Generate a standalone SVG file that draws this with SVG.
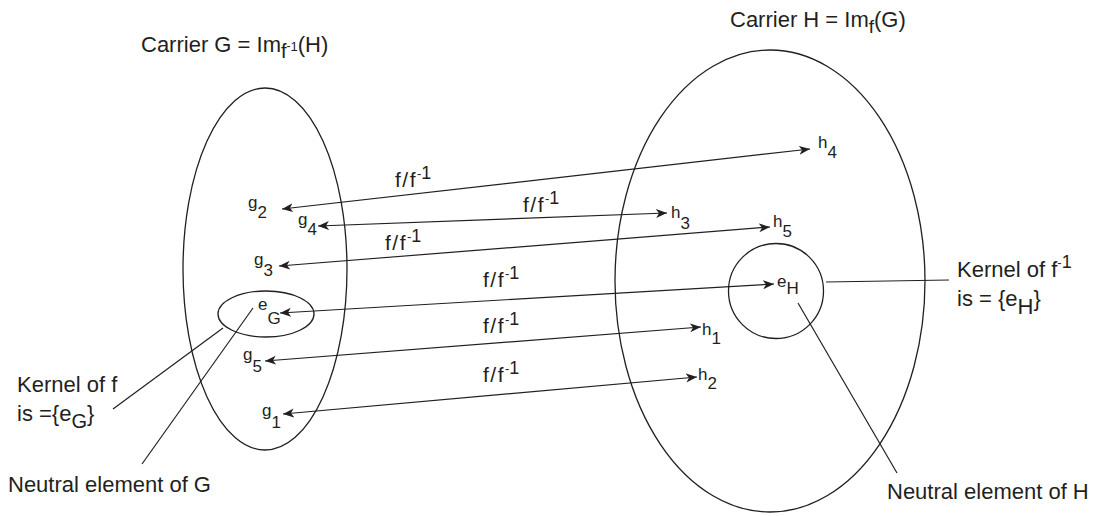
<svg xmlns="http://www.w3.org/2000/svg" width="1101" height="516" viewBox="0 0 1101 516">
<style>
  text { font-family: "Liberation Sans", Arial, sans-serif; fill: #231f20; }
  .big { font-size: 22px; }
  .lbl { font-size: 17px; }
  .fl { font-size: 21px; letter-spacing: 1.5px; }
  .fl tspan { letter-spacing: 0; }
  .shape { fill: none; stroke: #231f20; stroke-width: 1.3; }
  .conn { fill: none; stroke: #231f20; stroke-width: 1.2; marker-start: url(#ah); marker-end: url(#ah); }
  .lead { fill: none; stroke: #231f20; stroke-width: 1.2; }
</style>
<defs>
  <marker id="ah" markerUnits="userSpaceOnUse" markerWidth="12" markerHeight="10" viewBox="0 0 12 10" refX="11" refY="5" orient="auto-start-reverse">
    <path d="M0,0.5 L11,5 L0,9.5 L3,5 z" fill="#231f20"/>
  </marker>
</defs>

<g id="carrierG">
  <ellipse class="shape" cx="265" cy="269" rx="82" ry="181"/>
  <text class="big" x="141" y="52">Carrier G = Im<tspan font-size="20" dy="6">f</tspan><tspan font-size="12" dy="-8">-</tspan><tspan font-size="13" dy="1">1</tspan><tspan dy="1">(H)</tspan></text>
</g>
<g id="carrierH">
  <ellipse class="shape" cx="770" cy="281" rx="155" ry="231"/>
  <text class="big" x="730" y="27">Carrier H = Im<tspan font-size="19" dy="6">f</tspan><tspan dy="-6">(G)</tspan></text>
</g>
<g id="kernelG">
  <ellipse class="shape" cx="266" cy="314" rx="48" ry="23"/>
</g>
<g id="kernelH">
  <circle class="shape" cx="776" cy="291" r="47.5"/>
</g>

<g id="g2"><text class="lbl" x="248" y="208">g<tspan dy="10">2</tspan></text></g>
<g id="g4"><text class="lbl" x="298" y="225">g<tspan dy="10">4</tspan></text></g>
<g id="g3"><text class="lbl" x="254" y="265">g<tspan dy="11">3</tspan></text></g>
<g id="eG"><text class="lbl" x="258" y="310">e<tspan dy="14">G</tspan></text></g>
<g id="g5"><text class="lbl" x="243" y="360">g<tspan dy="12">5</tspan></text></g>
<g id="g1"><text class="lbl" x="262" y="416">g<tspan dy="12">1</tspan></text></g>

<g id="h4"><text class="lbl" x="818" y="148">h<tspan dy="10">4</tspan></text></g>
<g id="h3"><text class="lbl" x="671" y="218">h<tspan dy="11">3</tspan></text></g>
<g id="h5"><text class="lbl" x="773" y="227">h<tspan dy="10">5</tspan></text></g>
<g id="eH"><text class="lbl" x="777" y="287">e<tspan dy="7">H</tspan></text></g>
<g id="h1"><text class="lbl" x="702" y="335">h<tspan dy="9">1</tspan></text></g>
<g id="h2"><text class="lbl" x="698" y="380">h<tspan dy="9">2</tspan></text></g>

<g id="connectors">
  <line class="conn" x1="282" y1="209" x2="810" y2="149"/>
  <line class="conn" x1="318" y1="226" x2="667" y2="213"/>
  <line class="conn" x1="279" y1="266" x2="770" y2="227"/>
  <line class="conn" x1="280" y1="313" x2="774" y2="284"/>
  <line class="conn" x1="265" y1="361" x2="701" y2="327"/>
  <line class="conn" x1="283" y1="414" x2="697" y2="377"/>
  <line class="lead" x1="223" y1="328" x2="113" y2="409"/>
  <line class="lead" x1="253" y1="308" x2="142" y2="464"/>
  <line class="lead" x1="826" y1="282" x2="949" y2="280"/>
  <line class="lead" x1="798" y1="303" x2="897" y2="473"/>
  <text class="fl" x="395" y="187">f/f<tspan font-size="13" dy="-9">-</tspan><tspan font-size="18" dy="1">1</tspan></text>
  <text class="fl" x="523" y="212">f/f<tspan font-size="13" dy="-9">-</tspan><tspan font-size="18" dy="1">1</tspan></text>
  <text class="fl" x="385" y="250">f/f<tspan font-size="13" dy="-9">-</tspan><tspan font-size="18" dy="1">1</tspan></text>
  <text class="fl" x="483" y="287">f/f<tspan font-size="13" dy="-9">-</tspan><tspan font-size="18" dy="1">1</tspan></text>
  <text class="fl" x="483" y="333">f/f<tspan font-size="13" dy="-9">-</tspan><tspan font-size="18" dy="1">1</tspan></text>
  <text class="fl" x="483" y="382">f/f<tspan font-size="13" dy="-9">-</tspan><tspan font-size="18" dy="1">1</tspan></text>
</g>

<g id="labels">
  <text class="big" x="17" y="392">Kernel of f</text>
  <text class="big" x="17" y="421">is ={e<tspan font-size="20" dy="7">G</tspan><tspan dy="-7">}</tspan></text>
  <text class="big" x="8" y="492">Neutral element of G</text>
  <text class="big" x="957" y="277">Kernel of f<tspan font-size="13" dy="-10">-</tspan><tspan font-size="18" dy="1">1</tspan></text>
  <text class="big" x="957" y="306">is = {e<tspan dy="8">H</tspan><tspan dy="-8">}</tspan></text>
  <text class="big" x="887" y="499">Neutral element of H</text>
</g>
</svg>
